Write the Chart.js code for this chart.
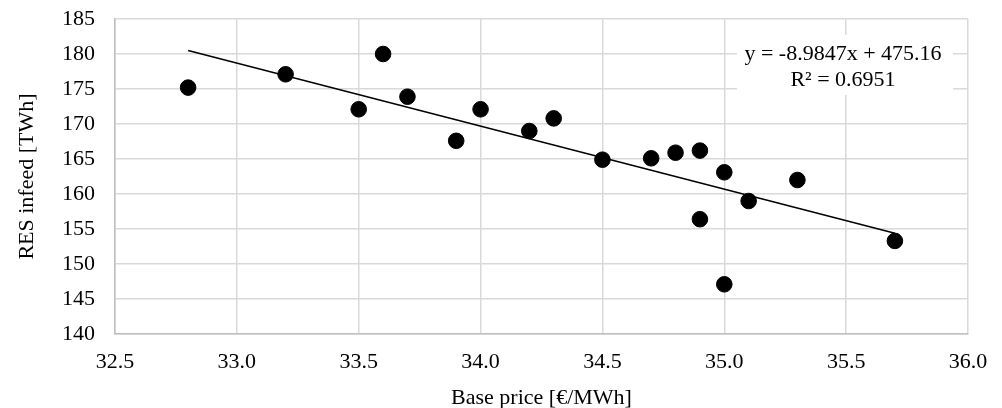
<!DOCTYPE html>
<html>
<head>
<meta charset="utf-8">
<script src="https://cdn.jsdelivr.net/npm/chart.js@4"></script>
<style>
  html, body { margin: 0; padding: 0; background: #fff; }
  #wrap { width: 1002px; height: 408px; }
</style>
</head>
<body>
<div id="wrap"><canvas id="scatterChart" width="1002" height="408"></canvas></div>
<script>
// base price [EUR/MWh] vs RES infeed [TWh]
const basePrice = [32.8, 33.2, 33.5, 33.6, 33.7, 33.9, 34.0, 34.2, 34.3, 34.5, 34.7, 34.8, 34.9, 34.9, 35.0, 35.0, 35.1, 35.3, 35.7];
const resInfeed = [175.2, 177.1, 172.1, 180.0, 173.9, 167.6, 172.1, 169.0, 170.8, 164.9, 165.1, 165.9, 166.2, 156.4, 163.1, 147.1, 159.0, 162.0, 153.3];

// linear trendline end points
const trendX = [32.8, 35.7];
const trendY = [180.5, 154.4];

const eqLines = ["y = -8.9847x + 475.16", "R\u00b2 = 0.6951"];

const FONT = "'Liberation Serif', 'Times New Roman', serif";
const FSIZE = 22;

const eqLabel = {
  id: "eqLabel",
  afterDatasetsDraw(chart) {
    const ctx = chart.ctx;
    ctx.save();
    ctx.fillStyle = "#fff";
    ctx.fillRect(737, 35, 216, 60);
    ctx.fillStyle = "#000";
    ctx.font = FSIZE + "px " + FONT;
    ctx.textAlign = "center";
    ctx.textBaseline = "middle";
    ctx.fillText(eqLines[0], 843, 54);
    ctx.fillText(eqLines[1], 843, 80);
    ctx.restore();
  },
};

function init() {
  const ctx = document.getElementById("scatterChart").getContext("2d");
  new Chart(ctx, {
    type: "scatter",
    data: {
      datasets: [
        {
          label: "RES infeed",
          data: basePrice.map((x, i) => ({ x, y: resInfeed[i] })),
          backgroundColor: "#000",
          borderColor: "#000",
          pointRadius: 7.8,
          pointHoverRadius: 7.8,
        },
        {
          label: "Linear trend",
          type: "line",
          data: trendX.map((x, i) => ({ x, y: trendY[i] })),
          borderColor: "#000",
          borderWidth: 1.5,
          pointRadius: 0,
          fill: false,
        },
      ],
    },
    options: {
      responsive: false,
      animation: false,
      layout: { autoPadding: false, padding: { top: 19, right: 34, left: 0, bottom: 0 } },
      plugins: { legend: { display: false }, tooltip: { enabled: false } },
      scales: {
        x: {
          type: "linear",
          min: 32.5,
          max: 36,
          afterFit: (s) => { s.height = 74; s.paddingLeft = 0; s.paddingRight = 0; },
          ticks: {
            stepSize: 0.5,
            color: "#000",
            font: { family: FONT, size: FSIZE },
            padding: 15,
            callback: (v) => v.toFixed(1),
          },
          grid: { color: "#d9d9d9", lineWidth: 1.5, drawTicks: false },
          border: { color: "#bfbfbf", width: 1.5 },
          title: {
            display: true,
            text: "Base price [\u20ac/MWh]",
            color: "#000",
            font: { family: FONT, size: FSIZE },
            padding: { top: 0, bottom: -3 },
          },
        },
        y: {
          min: 140,
          max: 185,
          afterFit: (s) => { s.width = 115; s.paddingTop = 0; s.paddingBottom = 0; },
          ticks: {
            stepSize: 5,
            color: "#000",
            font: { family: FONT, size: FSIZE },
            padding: 20,
          },
          grid: { color: "#d9d9d9", lineWidth: 1.5, drawTicks: false },
          border: { color: "#bfbfbf", width: 1.5 },
          title: {
            display: true,
            text: "RES infeed [TWh]",
            color: "#000",
            font: { family: FONT, size: FSIZE },
            padding: { top: 14, bottom: 0 },
          },
        },
      },
    },
    plugins: [eqLabel],
  });
}

document.addEventListener("DOMContentLoaded", init);
</script>
</body>
</html>
